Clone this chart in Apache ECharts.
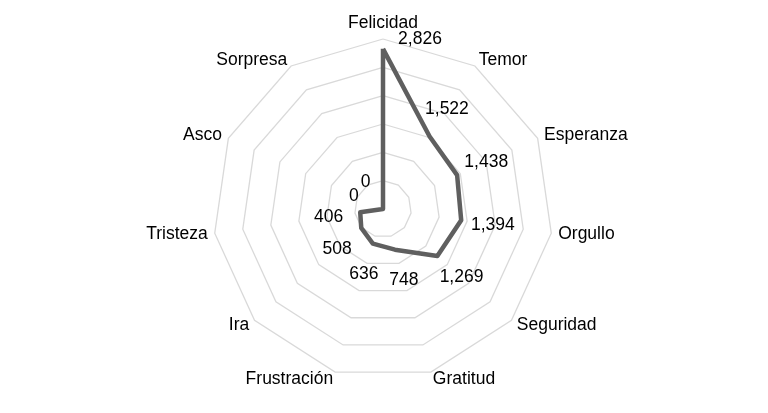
<!DOCTYPE html>
<html><head><meta charset="utf-8">
<script src="https://cdn.jsdelivr.net/npm/echarts@6/dist/echarts.min.js"></script>
<style>html,body{margin:0;padding:0;background:#fff}#c{width:768px;height:413px}</style>
</head><body><div id="c"></div>
<script>
const categories = ['Felicidad','Temor','Esperanza','Orgullo','Seguridad','Gratitud','Frustración','Ira','Tristeza','Asco','Sorpresa'];
const values = [2826, 1522, 1438, 1394, 1269, 748, 636, 508, 406, 0, 0];
const axisMax = 3000;
const ringCount = 6;

const FONT = "'Liberation Sans', Arial, sans-serif";
const FS = 17.5;
const n = categories.length;
// ECharts radar runs counterclockwise; map radar position -> category index so categories run clockwise
const order = Array.from({length: n}, (_, p) => p === 0 ? 0 : n - p);
const fmt = v => Number(v).toLocaleString('en-US');

const indicator = order.map(i => ({ name: categories[i], max: axisMax }));
const mainValues = order.map(i => values[i]);

const series = [{
  type: 'radar',
  silent: true,
  symbol: 'none',
  lineStyle: { color: '#5f5f5f', width: 4.5, join: 'round' },
  data: [{ value: mainValues }],
  z: 3
}];

const labelDist = 32;
for (let k = 0; k < n; k++) {
  const th = k * 2 * Math.PI / n;
  let off = [labelDist * Math.sin(th), -labelDist * Math.cos(th)];
  if (k === 0) off = [37, -10]; // shifted aside from the axis name
  series.push({
    type: 'radar',
    silent: true,
    symbol: 'circle',
    symbolSize: 1,
    itemStyle: { color: 'rgba(0,0,0,0)' },
    lineStyle: { opacity: 0 },
    label: {
      show: true,
      position: 'inside',
      offset: off,
      color: '#000',
      fontFamily: FONT,
      fontSize: FS,
      formatter: p => (p.value == null || p.value === '-' || isNaN(p.value)) ? '' : fmt(p.value)
    },
    data: [{ value: order.map(i => i === k ? values[k] : '-') }],
    z: 4
  });
}

const chart = echarts.init(document.getElementById('c'));
chart.setOption({
  animation: false,
  backgroundColor: '#fff',
  radar: {
    center: [383, 209],
    radius: 170,
    startAngle: 90,
    splitNumber: ringCount,
    shape: 'polygon',
    indicator: indicator,
    axisName: { color: '#000', fontFamily: FONT, fontSize: FS },
    nameGap: 7,
    axisLine: { show: false },
    axisTick: { show: false },
    axisLabel: { show: false },
    splitArea: { show: false },
    splitLine: { lineStyle: { color: '#d9d9d9', width: 1.3 } }
  },
  series: series
});
</script>
</body></html>
